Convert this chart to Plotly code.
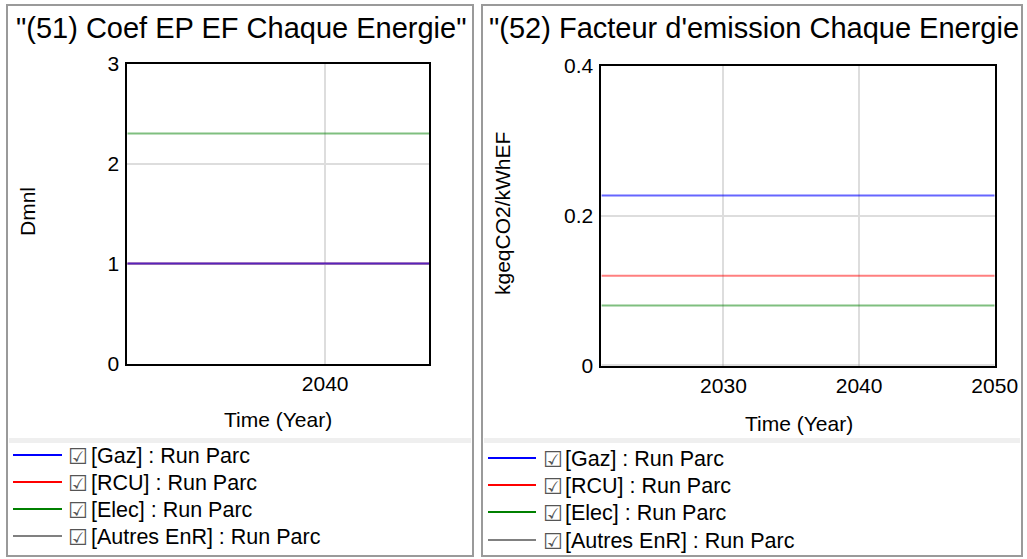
import plotly.graph_objects as go

# ---------------- data ----------------
years = [2021, 2050]
series_names = ["Gaz", "RCU", "Elec", "Autres EnR"]
series_colors = ["#0000ff", "#ff0000", "#008000", "#808080"]
line_colors = ["rgba(0,0,255,0.6)", "rgba(255,0,0,0.5)", "rgba(0,128,0,0.5)", "rgba(128,128,128,0.5)"]

coef_ep_ef = {            # (51) Coef EP EF, Dmnl
    "Gaz": [1.0, 1.0],
    "RCU": [1.0, 1.0],
    "Elec": [2.3, 2.3],
    "Autres EnR": [1.0, 1.0],
}
facteur_emission = {      # (52) kgeqCO2/kWhEF
    "Gaz": [0.227, 0.227],
    "RCU": [0.12, 0.12],
    "Elec": [0.08, 0.08],
    "Autres EnR": [0.0, 0.0],
}

left_title = "\"(51) Coef EP EF Chaque Energie\""
right_title = "\"(52) Facteur d'emission Chaque Energie"
left_ylabel = "Dmnl"
right_ylabel = "kgeqCO2/kWhEF"
xlabel = "Time (Year)"
run_label = "Run Parc"
left_xticks = [2040]
right_xticks = [2030, 2040, 2050]
left_yticks = [0, 1, 2, 3]
right_yticks = [0, 0.2, 0.4]
right_yticklabels = ["0", "0.2", "0.4"]

# ---------------- layout helpers (page pixels) ----------------
W, H = 1027, 559
def px(x):
    return x / W
def py(y):
    return 1 - y / H

FONT = "Arial, 'Liberation Sans', sans-serif"

fig = go.Figure()

# draw in reverse order (last series underneath)
order = list(range(len(series_names)))[::-1]
for i in order:
    n = series_names[i]
    fig.add_trace(go.Scatter(x=years, y=coef_ep_ef[n], mode="lines",
                             line=dict(color=line_colors[i], width=2),
                             name=n, showlegend=False, xaxis="x", yaxis="y"))
for i in order:
    n = series_names[i]
    fig.add_trace(go.Scatter(x=years, y=facteur_emission[n], mode="lines",
                             line=dict(color=line_colors[i], width=2),
                             name=n, showlegend=False, xaxis="x2", yaxis="y2"))

axis_common = dict(showline=True, linecolor="black", linewidth=2, mirror=True,
                   showgrid=True, gridcolor="#dddddd", gridwidth=1.5,
                   zeroline=False, ticks="", fixedrange=True, automargin=False,
                   tickfont=dict(family=FONT, size=21, color="black"))

shapes = []
annotations = []

# panel frames
for (x0, x1) in [(7, 473), (482, 1022)]:
    shapes.append(dict(type="rect", xref="paper", yref="paper",
                       x0=px(x0), x1=px(x1), y0=py(556), y1=py(5),
                       line=dict(color="#9a9a9a", width=2), fillcolor="rgba(0,0,0,0)", layer="below"))
    # separator band
    shapes.append(dict(type="rect", xref="paper", yref="paper",
                       x0=px(x0 + 2), x1=px(x1 - 2), y0=py(443), y1=py(438),
                       line=dict(width=0), fillcolor="#efefef", layer="below"))

# titles
annotations.append(dict(text=left_title, xref="paper", yref="paper", x=px(14), y=py(28),
                        xanchor="left", yanchor="middle", showarrow=False,
                        font=dict(family=FONT, size=29, color="black")))
annotations.append(dict(text=right_title, xref="paper", yref="paper", x=px(487), y=py(28),
                        xanchor="left", yanchor="middle", showarrow=False,
                        font=dict(family=FONT, size=29, color="black")))
# axis titles
annotations.append(dict(text=left_ylabel, xref="paper", yref="paper", x=px(27), y=py(212),
                        xanchor="center", yanchor="middle", textangle=-90, showarrow=False,
                        font=dict(family=FONT, size=21, color="black")))
annotations.append(dict(text=right_ylabel, xref="paper", yref="paper", x=px(502), y=py(214),
                        xanchor="center", yanchor="middle", textangle=-90, showarrow=False,
                        font=dict(family=FONT, size=21, color="black")))
annotations.append(dict(text=xlabel, xref="paper", yref="paper", x=px(278), y=py(419),
                        xanchor="center", yanchor="middle", showarrow=False,
                        font=dict(family=FONT, size=21, color="black")))
annotations.append(dict(text=xlabel, xref="paper", yref="paper", x=px(799), y=py(423),
                        xanchor="center", yanchor="middle", showarrow=False,
                        font=dict(family=FONT, size=21, color="black")))

# legends
legend_specs = [
    dict(x_line=(13, 62), x_box=66, x_text=89, ys=[455, 482, 509, 536]),
    dict(x_line=(488, 536), x_box=541, x_text=563, ys=[458, 485, 512, 540]),
]
for spec in legend_specs:
    for i, n in enumerate(series_names):
        yy = spec["ys"][i]
        shapes.append(dict(type="line", xref="paper", yref="paper",
                           x0=px(spec["x_line"][0]), x1=px(spec["x_line"][1]),
                           y0=py(yy), y1=py(yy),
                           line=dict(color=series_colors[i], width=2)))
        annotations.append(dict(text="☑", xref="paper", yref="paper",
                                x=px(spec["x_box"]), y=py(yy + 1), xanchor="left", yanchor="middle",
                                showarrow=False,
                                font=dict(family="DejaVu Sans", size=22, color="#555555")))
        annotations.append(dict(text=f"[{n}] : {run_label}", xref="paper", yref="paper",
                                x=px(spec["x_text"]), y=py(yy + 1), xanchor="left", yanchor="middle",
                                showarrow=False,
                                font=dict(family=FONT, size=21.5, color="black")))

fig.update_layout(
    width=W, height=H, autosize=False,
    margin=dict(l=0, r=0, t=0, b=0, pad=0, autoexpand=False),
    paper_bgcolor="white", plot_bgcolor="white",
    showlegend=False,
    xaxis=dict(domain=[px(127.3), px(429.3)], range=[2021, 2050],
               tickvals=left_xticks, anchor="y", **axis_common),
    yaxis=dict(domain=[py(363.5), py(63.5)], range=[0, 3],
               tickvals=left_yticks, anchor="x", ticklabelstandoff=2, **axis_common),
    xaxis2=dict(domain=[px(601.4), px(994.7)], range=[2021, 2050],
                tickvals=right_xticks, anchor="y2", **axis_common),
    yaxis2=dict(domain=[py(365.5), py(66)], range=[0, 0.4],
                tickvals=right_yticks, ticktext=right_yticklabels, anchor="x2",
                ticklabelstandoff=2, **axis_common),
    shapes=shapes,
    annotations=annotations,
)

fig.write_html("out.html", config=dict(displayModeBar=False),
               post_script="document.body.style.margin='0';document.documentElement.style.overflow='hidden';")
